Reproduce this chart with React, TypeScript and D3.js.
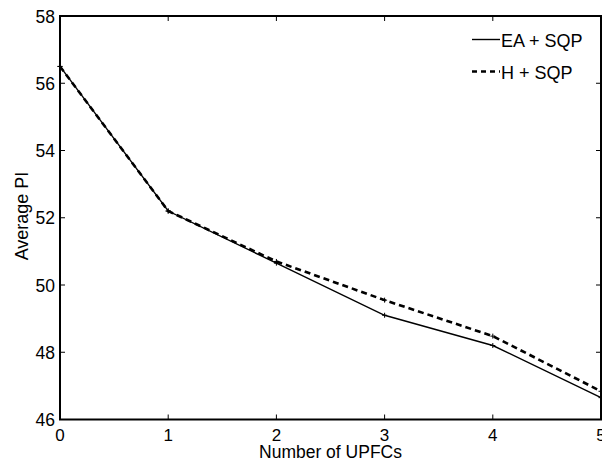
import React from "react";
import * as d3 from "d3";

const xValues = [0, 1, 2, 3, 4, 5];
const eaSqp = [56.5, 52.2, 50.65, 49.1, 48.2, 46.65];
const hSqp = [56.5, 52.2, 50.7, 49.55, 48.48, 46.84];
const yTicks = [46, 48, 50, 52, 54, 56, 58];
const xTicks = [0, 1, 2, 3, 4, 5];
const seriesNames = ["EA + SQP", "H + SQP"];

const W = 602;
const H = 466;
const left = 60;
const right = 601;
const top = 16;
const bottom = 419.5;
const FONT = "'Liberation Sans', Arial, Helvetica, sans-serif";

export default function App() {
  const x = d3.scaleLinear().domain([0, 5]).range([left, right]);
  const y = d3.scaleLinear().domain([46, 58]).range([bottom, top]);
  const line = d3
    .line<number>()
    .x((_, i) => x(xValues[i]))
    .y((d) => y(d));
  const tl = 5;

  const markers = (vals: number[], key: string) =>
    vals.map((v, i) => (
      <g key={key + i} transform={`translate(${x(xValues[i])},${y(v)})`}>
        <line x1={-2.5} x2={2.5} y1={0} y2={0} stroke="#000" strokeWidth={1} />
        <line x1={0} x2={0} y1={-2.5} y2={2.5} stroke="#000" strokeWidth={1} />
      </g>
    ));

  return (
    <svg
      width={W}
      height={H}
      style={{ position: "absolute", left: 0, top: 0, background: "#fff" }}
      fontFamily={FONT}
    >
      <rect x={0} y={0} width={W} height={H} fill="#fff" />
      {/* ticks */}
      {xTicks.map((t) => (
        <g key={"xt" + t}>
          <line x1={x(t)} x2={x(t)} y1={bottom} y2={bottom - tl} stroke="#000" strokeWidth={1} />
          <line x1={x(t)} x2={x(t)} y1={top} y2={top + tl} stroke="#000" strokeWidth={1} />
          <text x={x(t)} y={441} fontSize={17} textAnchor="middle" fill="#000">
            {t}
          </text>
        </g>
      ))}
      {yTicks.map((t) => (
        <g key={"yt" + t}>
          <line x1={left} x2={left + tl} y1={y(t)} y2={y(t)} stroke="#000" strokeWidth={1} />
          <line x1={right} x2={right - tl} y1={y(t)} y2={y(t)} stroke="#000" strokeWidth={1} />
          <text x={55} y={y(t) + 6.5} fontSize={17.5} textAnchor="end" fill="#000">
            {t}
          </text>
        </g>
      ))}
      {/* data */}
      <path d={line(hSqp) || ""} fill="none" stroke="#000" strokeWidth={2.6} strokeDasharray="6,4" />
      <path d={line(eaSqp) || ""} fill="none" stroke="#000" strokeWidth={1.4} />
      {markers(hSqp, "h")}
      {markers(eaSqp, "e")}
      {/* frame */}
      <rect x={left} y={top} width={right - left} height={bottom - top} fill="none" stroke="#000" strokeWidth={2} />
      {/* legend */}
      <line x1={472} x2={500} y1={39.5} y2={39.5} stroke="#000" strokeWidth={1.4} />
      <text x={501} y={46.5} fontSize={18} fill="#000">
        {seriesNames[0]}
      </text>
      <line x1={472} x2={500} y1={71.5} y2={71.5} stroke="#000" strokeWidth={2.6} strokeDasharray="5,4" />
      <text x={501} y={78.5} fontSize={18} fill="#000">
        {seriesNames[1]}
      </text>
      {/* axis labels */}
      <text x={330.5} y={458} fontSize={17.5} textAnchor="middle" fill="#000">
        Number of UPFCs
      </text>
      <text
        transform={`translate(28,216) rotate(-90)`}
        fontSize={18}
        textAnchor="middle"
        fill="#000"
      >
        Average PI
      </text>
    </svg>
  );
}
